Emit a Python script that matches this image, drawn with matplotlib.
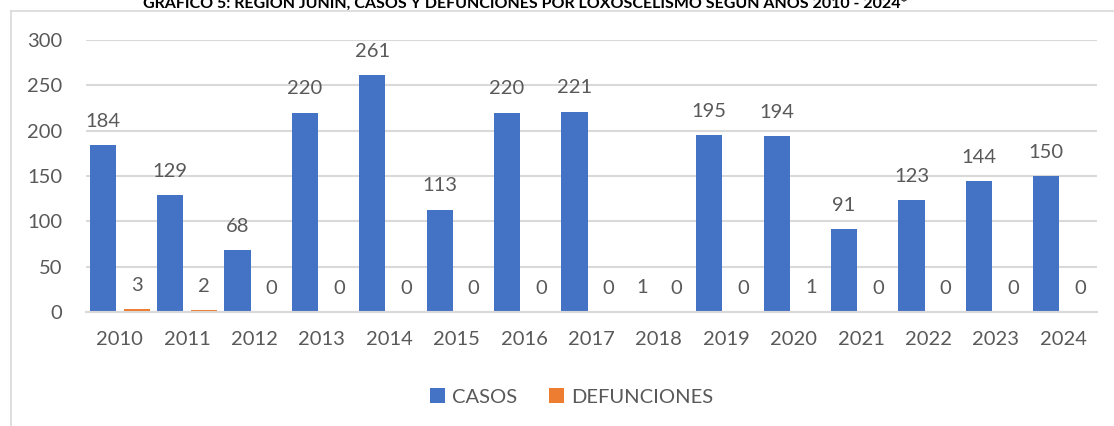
import matplotlib
matplotlib.use("Agg")
from matplotlib import pyplot as plt
from matplotlib.lines import Line2D
import numpy as np

years = ["2010", "2011", "2012", "2013", "2014", "2015", "2016", "2017",
         "2018", "2019", "2020", "2021", "2022", "2023", "2024"]
casos = [184, 129, 68, 220, 261, 113, 220, 221, 1, 195, 194, 91, 123, 144, 150]
defunciones = [3, 2, 0, 0, 0, 0, 0, 0, 0, 0, 1, 0, 0, 0, 0]
yticks = [0, 50, 100, 150, 200, 250, 300]

title = "GRÁFICO 5: REGIÓN JUNÍN, CASOS Y DEFUNCIONES POR LOXOSCELISMO SEGÚN AÑOS 2010 - 2024*"

plt.rcParams['font.family'] = ['Lato', 'DejaVu Sans']
txt = '#595959'
grid = '#d9d9d9'

fig = plt.figure(figsize=(11.14, 4.26), dpi=100)
ax = fig.add_axes([86 / 1114, 114 / 426, 1011 / 1114, 272 / 426])

x = np.arange(len(years))
w = 0.39
off = 0.252
b1 = ax.bar(x - off, casos, w, color='#4472C4', label='CASOS', zorder=3)
b2 = ax.bar(x + off, defunciones, w, color='#ED7D31', label='DEFUNCIONES', zorder=3)

for bars, vals in ((b1, casos), (b2, defunciones)):
    for r, v in zip(bars, vals):
        ax.annotate(str(v), (r.get_x() + r.get_width() / 2, r.get_height()),
                    xytext=(0, 11), textcoords='offset points',
                    ha='center', va='bottom', fontsize=14.5, color=txt)

ax.set_xlim(-0.5, len(years) - 0.5)
ax.set_ylim(0, 300)
ax.set_yticks(yticks)
ax.set_xticks(x)
ax.set_xticklabels(years)
ax.tick_params(axis='both', length=0, labelsize=14.5, labelcolor=txt)
ax.tick_params(axis='y', pad=17)
ax.tick_params(axis='x', pad=14)
ax.grid(axis='y', color=grid, linewidth=1.5, zorder=0)
for s in ['top', 'left', 'right']:
    ax.spines[s].set_visible(False)
ax.spines['bottom'].set_color(grid)
ax.spines['bottom'].set_linewidth(1.5)
ax.spines['bottom'].set_zorder(4)

leg = fig.legend(loc='center', bbox_to_anchor=(0.513, 0.068), ncol=2, frameon=False,
                 fontsize=14.5, handlelength=0.75, handleheight=0.75,
                 handletextpad=0.35, columnspacing=1.6)
for t in leg.get_texts():
    t.set_color(txt)

# chart border (top and left edges visible)
fig.add_artist(Line2D([11 / 1114, 11 / 1114], [0, 1 - 11 / 426],
                      transform=fig.transFigure, color=grid, linewidth=1.2))
fig.add_artist(Line2D([11 / 1114, 1], [1 - 11 / 426, 1 - 11 / 426],
                      transform=fig.transFigure, color=grid, linewidth=1.2))

fig.text(0.471, 1 - 8 / 426, title, ha='center', va='baseline',
         fontsize=11.5, fontweight='bold', color='#000000')

fig.savefig("out.png", dpi=100)
